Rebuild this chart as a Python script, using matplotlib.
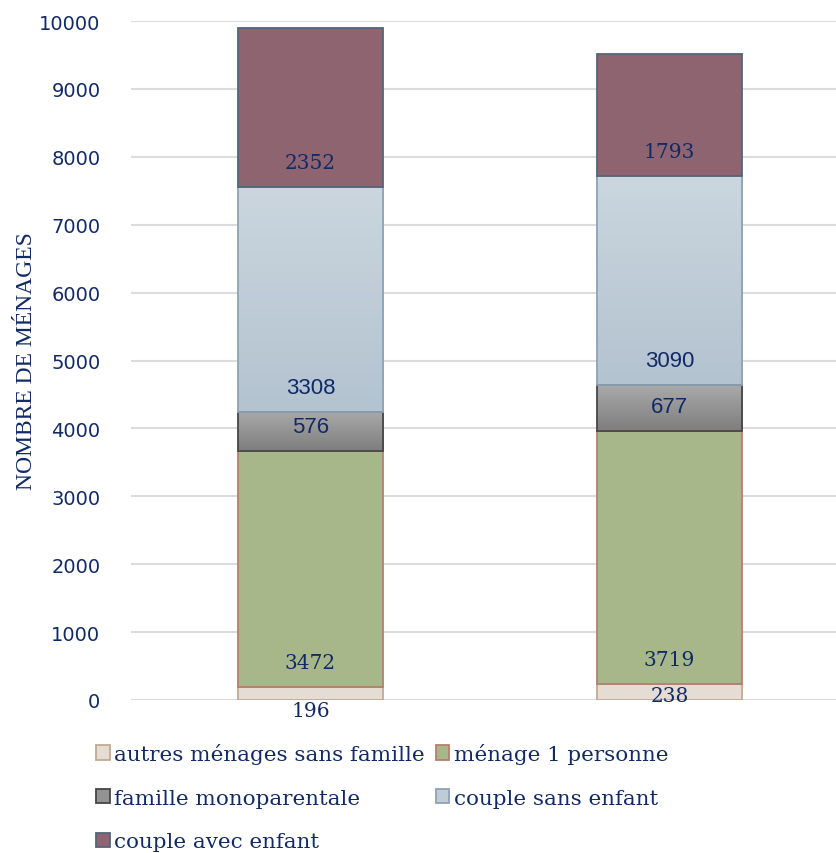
import numpy as np
import matplotlib.pyplot as plt
from matplotlib.patches import Patch
from matplotlib.colors import LinearSegmentedColormap

# ménages par type, deux périodes
groups = ["A", "B"]
series = ["autres ménages sans famille", "ménage 1 personne",
          "famille monoparentale", "couple sans enfant", "couple avec enfant"]
autres = [196, 238]
une_personne = [3472, 3719]
monoparentale = [576, 677]
couple_sans = [3308, 3090]
couple_avec = [2352, 1793]
values = [autres, une_personne, monoparentale, couple_sans, couple_avec]

faces = ["#e5ddd3", "#a7b78a", "#939393", "#bfcbd5", "#8d6470"]
edges = ["#c2aa92", "#b38070", "#474747", "#8ea3b6", "#536679"]
# top / bottom colours for the shaded segments
grads = {2: ("#a9a9a9", "#7e7e7e"), 3: ("#cbd6de", "#b3c3d0")}
navy = "#112a66"

fig = plt.figure(figsize=(8.36, 8.54), dpi=100)
ax = fig.add_axes([131/836, 153/854, 705/836, 679/854])

x = np.arange(len(groups))
bottom = np.zeros(len(groups))
width = 0.404
for i, (vals, name) in enumerate(zip(values, series)):
    fc = "none" if i in grads else faces[i]
    bars = ax.bar(x, vals, width, bottom=bottom, color=fc, edgecolor=edges[i],
                  linewidth=1.3, label=name, zorder=3)
    if i in grads:
        cmap = LinearSegmentedColormap.from_list("g%d" % i, [grads[i][1], grads[i][0]])
        for j, b in enumerate(bars):
            img = ax.imshow(np.linspace(0, 1, 64).reshape(-1, 1), cmap=cmap,
                            origin="lower", aspect="auto", zorder=2.9,
                            extent=[x[j] - width/2, x[j] + width/2,
                                    bottom[j], bottom[j] + vals[j]])
            img.set_clip_path(b)
    for j, v in enumerate(vals):
        sans = i in (2, 3)
        fam = "Liberation Sans" if sans else "DejaVu Serif"
        fs = 16 if sans else 14.5
        if i == 0:
            y = bottom[j] - 160 if j == 0 else bottom[j] + 60
        else:
            y = bottom[j] + 360
        ax.text(x[j], y, str(v), ha="center", va="center", fontsize=fs,
                color=navy, family=fam, zorder=4)
    bottom += np.array(vals)

ax.set_xlim(-0.5, 1.464)
ax.set_ylim(0, 10000)
ax.set_yticks(range(0, 10001, 1000))
ax.set_xticks([])
ax.yaxis.grid(True, color="#dcdcdc", linewidth=1.5, zorder=0)
ax.tick_params(axis="y", length=0, pad=22, labelsize=14, labelcolor=navy)
for lbl in ax.get_yticklabels():
    lbl.set_family("DejaVu Sans")
for s in ax.spines.values():
    s.set_visible(False)
ax.set_ylabel("NOMBRE DE MÉNAGES", fontsize=17, color=navy,
              family="Liberation Serif")
ax.yaxis.set_label_coords(-0.134, 0.5)

handles = [Patch(facecolor=faces[i], edgecolor=edges[i], linewidth=1.3, label=series[i])
           for i in range(5)]
order = [0, 2, 4, 1, 3]
fig.legend([handles[k] for k in order], [series[k] for k in order],
           loc="upper left", bbox_to_anchor=(96/836, 1 - 744/854), ncol=2,
           frameon=False, handlelength=0.65, handleheight=0.65,
           handletextpad=0.2, columnspacing=0.5, labelspacing=1.15,
           prop={"family": "DejaVu Serif", "size": 15.4}, labelcolor=navy,
           borderaxespad=0, borderpad=0)

fig.savefig("out.png", dpi=100)
